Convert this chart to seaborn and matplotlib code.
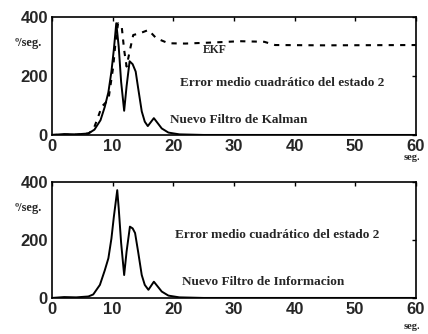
import matplotlib
matplotlib.use("Agg")
import matplotlib.pyplot as plt
import seaborn as sns
import pandas as pd

# Top panel: Nuevo Filtro de Kalman (solid) and EKF (dashed)
kal_t = [0, 2, 4, 6, 7, 8, 8.7, 9.3, 9.8, 10.2, 10.6, 11.0, 11.4, 11.9, 12.3, 12.8, 13.3, 13.8, 14.2, 14.8, 15.3, 15.8, 16.8, 18.1, 19.2, 21, 25, 30, 40, 60]
kal_v = [0, 3, 2, 5, 18, 50, 95, 145, 215, 290, 379, 300, 180, 82, 165, 250, 240, 215, 160, 80, 45, 30, 57, 22, 8, 2, 0, 0, 0, 0]

ekf_t = [0, 4, 6, 6.8, 7.5, 8.2, 9.3, 10.1, 10.5, 10.9, 11.5, 11.9, 12.3, 12.85, 13.4, 14.5, 15.9, 17.2, 19.2, 22, 27, 31, 35, 36.8, 45, 60]
ekf_v = [0, 1, 5, 17, 55, 96, 119, 232, 320, 379, 367, 288, 232, 288, 339, 345, 356, 328, 311, 310, 314, 318, 316, 305, 304, 305]

# Bottom panel: Nuevo Filtro de Informacion
inf_t = [0, 2, 4, 6, 6.8, 7.9, 8.7, 9.3, 9.8, 10.2, 10.76, 11.0, 11.4, 11.9, 12.3, 12.85, 13.3, 13.7, 14.2, 14.8, 15.3, 15.9, 16.8, 18.1, 19.2, 21, 25, 30, 40, 60]
inf_v = [0, 3, 2, 5, 12, 45, 95, 137, 205, 280, 372, 310, 190, 79, 160, 246, 240, 224, 160, 79, 45, 28, 56, 22, 8, 2, 0, 0, 0, 0]

x_ticks = [0, 10, 20, 30, 40, 50, 60]
y_ticks = [0, 200, 400]

sns.set_style("white")
plt.rcParams['font.family'] = ['Liberation Sans', 'DejaVu Sans']

fig = plt.figure(figsize=(4.28, 3.34), dpi=100)
ax1 = fig.add_axes([0.1215, 0.596, 0.850, 0.353])
ax2 = fig.add_axes([0.1215, 0.108, 0.850, 0.347])

df_k = pd.DataFrame({"t": kal_t, "v": kal_v})
df_e = pd.DataFrame({"t": ekf_t, "v": ekf_v})
df_i = pd.DataFrame({"t": inf_t, "v": inf_v})

sns.lineplot(data=df_k, x="t", y="v", ax=ax1, color="black", linewidth=1.4)
sns.lineplot(data=df_e, x="t", y="v", ax=ax1, color="black", linewidth=1.5,
             linestyle=(0, (2.5, 3)))
sns.lineplot(data=df_i, x="t", y="v", ax=ax2, color="black", linewidth=1.4)

serif = ['Liberation Serif', 'DejaVu Serif']
for ax, sy in ((ax1, -0.19), (ax2, -0.25)):
    ax.set_xlim(0, 60)
    ax.set_ylim(0, 400)
    ax.set_xticks(x_ticks)
    ax.set_yticks(y_ticks)
    ax.set_xlabel("")
    ax.set_ylabel("")
    ax.tick_params(direction="in", length=3, width=1, top=True, right=True,
                   labelsize=12, pad=3, color="black")
    for lab in ax.get_xticklabels() + ax.get_yticklabels():
        lab.set_fontweight("bold")
    for s in ax.spines.values():
        s.set_color("black")
        s.set_linewidth(1.2)
    ax.text(-0.066, 0.78, "º/seg.", transform=ax.transAxes, fontsize=9,
            fontweight="bold", family=serif, ha="center", va="center")
    ax.text(0.989, sy, "seg.", transform=ax.transAxes, fontsize=7.5,
            fontweight="bold", family=serif, ha="center", va="center")

fs = 9.5
ax1.text(24.8, 288, "EKF", fontsize=8.5, fontweight="bold", family=serif, va="center")
ax1.text(21.1, 176, "Error medio cuadrático del estado 2", fontsize=fs,
         fontweight="bold", family=serif, va="center")
ax1.text(19.4, 51, "Nuevo Filtro de Kalman", fontsize=fs, fontweight="bold",
         family=serif, va="center")
ax2.text(20.3, 217, "Error medio cuadrático del estado 2", fontsize=fs,
         fontweight="bold", family=serif, va="center")
ax2.text(21.4, 55, "Nuevo Filtro de Informacion", fontsize=fs, fontweight="bold",
         family=serif, va="center")

fig.savefig("out.png", dpi=100)
